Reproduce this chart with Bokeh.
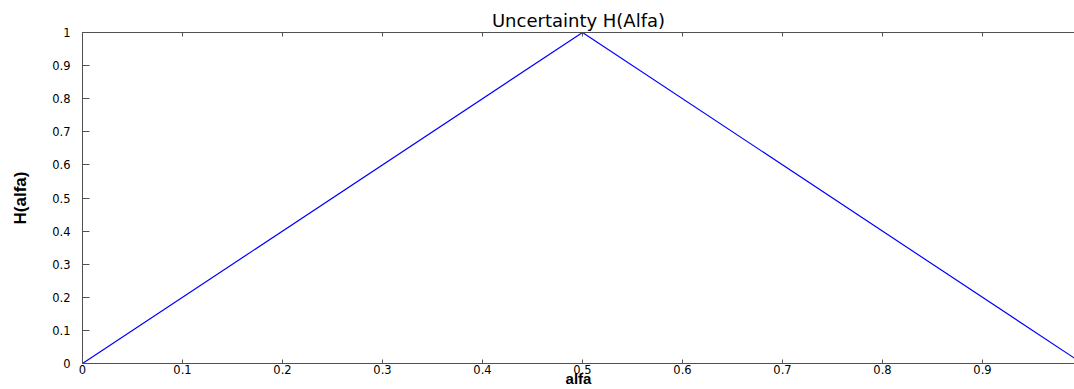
from bokeh.plotting import figure
from bokeh.models import Range1d, LinearAxis, FixedTicker
from bokeh.embed import file_html
from bokeh.resources import INLINE

# data
alfa = [0.0, 0.5, 1.0]
h_alfa = [0.0, 1.0, 0.0]
x_ticks = [0.0, 0.1, 0.2, 0.3, 0.4, 0.5, 0.6, 0.7, 0.8, 0.9, 1.0]
y_ticks = [0.0, 0.1, 0.2, 0.3, 0.4, 0.5, 0.6, 0.7, 0.8, 0.9, 1.0]
tick_labels = {0.0: "0", 0.1: "0.1", 0.2: "0.2", 0.3: "0.3", 0.4: "0.4", 0.5: "0.5",
               0.6: "0.6", 0.7: "0.7", 0.8: "0.8", 0.9: "0.9", 1.0: "1"}

FONT = "DejaVu Sans"
AX = "#505050"

p = figure(width=1074, height=389, output_backend="svg", toolbar_location=None,
           x_range=Range1d(0, 0.992), y_range=Range1d(0, 1),
           min_border_left=82, min_border_right=0, min_border_top=32, min_border_bottom=26,
           x_axis_location=None, y_axis_location=None)
p.outline_line_color = None
p.grid.visible = False
p.background_fill_color = "white"
p.border_fill_color = "white"

p.title.text = "Uncertainty H(Alfa)"
p.title.align = "center"
p.title.text_font = FONT
p.title.text_font_size = "18px"
p.title.text_font_style = "normal"
p.title.text_color = "black"
p.title.standoff = 4

def style(ax, tick_in):
    ax.axis_line_color = AX
    ax.major_tick_line_color = AX
    ax.major_tick_in = tick_in
    ax.major_tick_out = 0
    ax.minor_tick_line_color = None
    ax.major_label_text_font = FONT
    ax.major_label_text_font_size = "11.5px"
    ax.major_label_text_color = "black"

xb = LinearAxis(ticker=FixedTicker(ticks=x_ticks))
style(xb, 4)
xb.major_label_overrides = {k: v for k, v in tick_labels.items()}
xb.major_label_standoff = 1
xb.axis_label = "alfa"
xb.axis_label_text_font = "Liberation Sans"
xb.axis_label_text_font_size = "15px"
xb.axis_label_text_font_style = "bold"
xb.axis_label_text_color = "black"
xb.axis_label_standoff = -7
p.add_layout(xb, "below")

xt = LinearAxis(ticker=FixedTicker(ticks=x_ticks))
style(xt, 4)
xt.major_label_overrides = {k: "" for k in tick_labels}
xt.major_label_standoff = 0
p.add_layout(xt, "above")

yl = LinearAxis(ticker=FixedTicker(ticks=y_ticks))
style(yl, 7)
yl.major_label_overrides = {k: v for k, v in tick_labels.items()}
yl.major_label_standoff = 12
yl.axis_label = "H(alfa)"
yl.axis_label_text_font = "Liberation Sans"
yl.axis_label_text_font_size = "17px"
yl.axis_label_text_font_style = "bold"
yl.axis_label_text_color = "black"
yl.axis_label_standoff = 19
p.add_layout(yl, "left")

p.line(x=alfa, y=h_alfa, line_color="#0000ff", line_width=1.2)

open("out.html", "w").write(file_html(p, INLINE))
